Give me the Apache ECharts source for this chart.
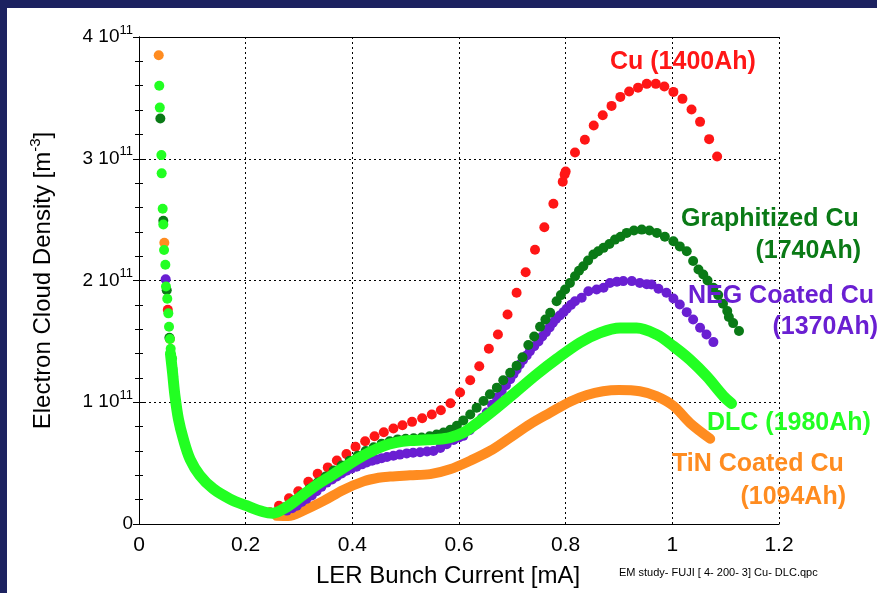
<!DOCTYPE html>
<html><head><meta charset="utf-8">
<script src="https://cdn.jsdelivr.net/npm/echarts@6/dist/echarts.min.js"></script>
<style>html,body{margin:0;padding:0;background:#fff}#c{width:877px;height:593px}</style>
</head><body><div id="c"></div>
<script>
// X: LER bunch current [mA]; Y: electron cloud density in units of 1e11 m^-3
const xTickLabels = ['0','0.2','0.4','0.6','0.8','1','1.2'];
const yTickLabels = ['0','1','2','3','4'];
const yExponent = '11';

const cuPoints = [[0.054,1.76],
 [0.2456,0.096],[0.2625,0.150],[0.2813,0.211],[0.2987,0.268],[0.3175,0.347],[0.335,0.412],[0.354,0.465],[0.371,0.522],[0.389,0.574],[0.406,0.635],[0.424,0.680],[0.4416,0.721],[0.459,0.754],[0.477,0.784],[0.494,0.811],[0.512,0.839],[0.531,0.869],[0.549,0.899],[0.566,0.934],[0.584,0.992],[0.602,1.080],[0.621,1.180],[0.638,1.295],[0.656,1.439],[0.673,1.557],[0.691,1.721],[0.708,1.899],[0.725,2.068],[0.7425,2.252],[0.760,2.437],[0.777,2.631],[0.7945,2.811],[0.798,2.87],[0.800,2.896],[0.8175,3.052],[0.836,3.156],[0.8526,3.273],[0.8695,3.358],[0.886,3.434],[0.9025,3.508],[0.919,3.552],[0.9357,3.584],[0.952,3.615],[0.969,3.615],[0.985,3.593],[1.002,3.549],[1.019,3.492],[1.036,3.404],[1.052,3.303],[1.069,3.161],[1.084,3.019]];

const graphitizedPoints = [[0.040,3.33],[0.0456,2.49],[0.052,1.92],[0.057,1.53],
 [0.26,0.10],[0.275,0.14],[0.29,0.19],[0.305,0.24],[0.32,0.29],[0.335,0.34],[0.35,0.39],[0.365,0.44],[0.38,0.48],[0.395,0.52],[0.41,0.56],[0.425,0.60],[0.44,0.63],[0.455,0.66],[0.47,0.68],[0.485,0.695],[0.50,0.70],[0.515,0.705],[0.53,0.71],[0.545,0.72],[0.558,0.735],[0.571,0.751],[0.584,0.775],[0.596,0.806],[0.608,0.85],[0.621,0.90],[0.633,0.955],[0.646,1.01],[0.658,1.065],[0.671,1.12],[0.683,1.18],[0.696,1.243],[0.708,1.30],[0.719,1.37],[0.730,1.47],[0.741,1.54],[0.752,1.62],[0.762,1.68],[0.771,1.735],[0.783,1.83],[0.791,1.88],[0.799,1.926],[0.808,1.98],[0.8175,2.035],[0.825,2.08],[0.833,2.117],[0.842,2.165],[0.852,2.213],[0.861,2.24],[0.871,2.268],[0.882,2.30],[0.8925,2.336],[0.903,2.36],[0.9145,2.391],[0.928,2.41],[0.9426,2.418],[0.957,2.41],[0.971,2.391],[0.986,2.36],[1.002,2.322],[1.014,2.28],[1.027,2.24],[1.039,2.16],[1.049,2.09],[1.058,2.05],[1.066,2.00],[1.077,1.94],[1.086,1.88],[1.095,1.81],[1.103,1.75],[1.106,1.70],[1.114,1.65],[1.125,1.585]];

const negPoints = [[0.050,2.01],[0.064,1.21],
 [0.277,0.11],[0.287,0.13],[0.296,0.15],[0.305,0.18],[0.314,0.205],[0.324,0.235],[0.333,0.27],[0.342,0.305],[0.352,0.34],[0.362,0.365],[0.371,0.39],[0.38,0.415],[0.389,0.437],[0.398,0.455],[0.408,0.47],[0.418,0.49],[0.427,0.505],[0.437,0.52],[0.446,0.53],[0.455,0.54],[0.465,0.55],[0.477,0.56],[0.489,0.57],[0.502,0.58],[0.514,0.585],[0.527,0.59],[0.540,0.595],[0.552,0.60],[0.565,0.625],[0.577,0.656],[0.590,0.69],[0.600,0.71],[0.608,0.724],[0.620,0.77],[0.633,0.82],[0.643,0.87],[0.652,0.915],[0.662,0.98],[0.671,1.04],[0.680,1.093],[0.688,1.14],[0.696,1.189],[0.702,1.23],[0.708,1.27],[0.714,1.31],[0.720,1.347],[0.727,1.385],[0.733,1.42],[0.741,1.46],[0.749,1.50],[0.756,1.54],[0.763,1.576],[0.770,1.615],[0.776,1.653],[0.782,1.685],[0.789,1.713],[0.796,1.74],[0.802,1.768],[0.810,1.80],[0.8175,1.83],[0.830,1.858],[0.8425,1.912],[0.858,1.926],[0.871,1.94],[0.883,1.98],[0.896,1.99],[0.908,1.995],[0.924,1.995],[0.939,1.98],[0.952,1.97],[0.961,1.967],[0.974,1.932],[0.989,1.90],[1.002,1.852],[1.014,1.803],[1.027,1.74],[1.039,1.68],[1.052,1.612],[1.064,1.557],[1.077,1.494]];

const dlcDots = [[0.038,3.60],[0.039,3.42],[0.042,3.03],[0.0425,2.88],[0.0444,2.59],[0.0456,2.46],[0.047,2.25],[0.0494,2.13],[0.0506,1.95],[0.053,1.85],[0.055,1.73],[0.0563,1.62],[0.058,1.52],[0.0594,1.44],[0.062,1.36],[0.063,1.27]];
const dlcBand = [[0.059,1.40],[0.063,1.24],[0.0675,1.05],[0.074,0.86],[0.083,0.70],[0.096,0.53],[0.114,0.40],[0.139,0.29],[0.171,0.205],[0.202,0.15],[0.233,0.10],[0.250,0.088],[0.277,0.14],[0.308,0.24],[0.333,0.32],[0.358,0.39],[0.383,0.46],[0.408,0.53],[0.433,0.59],[0.458,0.64],[0.483,0.67],[0.508,0.685],[0.533,0.69],[0.558,0.695],[0.583,0.71],[0.608,0.75],[0.639,0.845],[0.671,0.955],[0.708,1.09],[0.746,1.23],[0.783,1.355],[0.827,1.49],[0.864,1.57],[0.902,1.61],[0.933,1.61],[0.971,1.555],[1.002,1.46],[1.033,1.35],[1.064,1.215],[1.096,1.05],[1.111,0.99]];

const tinDots = [[0.037,3.85],[0.0475,2.31],[0.058,1.52]];
const tinBand = [[0.258,0.068],[0.28,0.066],[0.308,0.11],[0.346,0.19],[0.383,0.28],[0.421,0.35],[0.449,0.38],[0.471,0.39],[0.508,0.40],[0.546,0.41],[0.583,0.45],[0.621,0.52],[0.658,0.60],[0.696,0.71],[0.733,0.82],[0.771,0.915],[0.808,1.005],[0.840,1.06],[0.870,1.09],[0.900,1.10],[0.939,1.09],[0.970,1.05],[1.002,0.97],[1.033,0.83],[1.071,0.70]];

const C_RED='#ff1616', C_DG='#0a7a16', C_PUR='#6a1fd2', C_LG='#22ff22', C_OR='#ff8c20';
const labelFont = 'bold 25px "Liberation Sans", Arial, sans-serif';

const chart = echarts.init(document.getElementById('c'), null, {renderer:'canvas'});
function seriesLabel(text, x, y, color, align){
  return {type:'text', x:x, y:y, z:50,
    style:{text:text, fill:color, font:labelFont, align:align, textAlign:align, verticalAlign:'middle', textVerticalAlign:'middle'}};
}
const yAxisBase = {type:'value', min:0, max:4, interval:1,
  axisLine:{show:true, lineStyle:{color:'#000', width:1}},
  axisTick:{show:true, inside:true, length:6, lineStyle:{color:'#000'}},
  minorTick:{show:true, splitNumber:5, length:4, lineStyle:{color:'#000'}},
};
const dotStyle = c => ({color:c, opacity:1});
chart.setOption({
  backgroundColor:'#fff',
  animation:false,
  grid:{left:139, right:98, top:37, bottom:68, show:false},
  xAxis:[{type:'value', min:0, max:1.2, interval:0.2, position:'bottom',
    axisLine:{show:true, onZero:false, lineStyle:{color:'#000', width:1}},
    axisTick:{show:false},
    splitLine:{show:true, lineStyle:{color:'#000', type:[2,3], width:1}},
    axisLabel:{color:'#000', fontSize:21, margin:11, fontFamily:'Liberation Sans',
      formatter:v=>xTickLabels[Math.round(v/0.2)]},
    name:'LER Bunch Current [mA]', nameLocation:'middle', nameGap:40,
    nameTextStyle:{color:'#000', fontSize:24, fontFamily:'Liberation Sans', padding:[0,22,0,0]}
  },{type:'value', min:0, max:1.2, interval:0.2, position:'top',
    axisLine:{show:true, onZero:false, lineStyle:{color:'#000', width:1}},
    axisTick:{show:false}, axisLabel:{show:false}, splitLine:{show:false}}],
  yAxis:[Object.assign({}, yAxisBase, {position:'left',
    splitLine:{show:true, lineStyle:{color:'#000', type:[2,3], width:1}},
    axisLabel:{margin:6, color:'#000', fontFamily:'Liberation Sans',
      formatter:v=>{const i=Math.round(v); return i===0?'{a|0}':'{a|'+yTickLabels[i]+' 10}{b|'+yExponent+'}';},
      rich:{a:{fontSize:19, color:'#000', fontFamily:'Liberation Sans'}, b:{fontSize:13, color:'#000', fontFamily:'Liberation Sans', padding:[0,0,14,0]}}},
    name:'{t|Electron Cloud Density [m}{s|-3}{t|]}', nameLocation:'middle', nameRotate:90, nameGap:80,
    nameTextStyle:{rich:{t:{fontSize:24, color:'#000', fontFamily:'Liberation Sans'}, s:{fontSize:15, color:'#000', fontFamily:'Liberation Sans', padding:[0,0,16,0]}}}
  }), Object.assign({}, yAxisBase, {position:'right', axisLabel:{show:false}, splitLine:{show:false}})],
  series:[
    {type:'line', data:tinBand, symbol:'none', smooth:0.35, lineStyle:{color:C_OR, width:10, cap:'round', join:'round', opacity:1}, z:2},
    {type:'scatter', data:tinDots, symbolSize:10, itemStyle:dotStyle(C_OR), z:2},
    {type:'scatter', data:cuPoints, symbolSize:10, itemStyle:dotStyle(C_RED), z:3},
    {type:'scatter', data:negPoints, symbolSize:10, itemStyle:dotStyle(C_PUR), z:4},
    {type:'scatter', data:graphitizedPoints, symbolSize:10, itemStyle:dotStyle(C_DG), z:5},
    {type:'line', data:dlcBand, symbol:'none', smooth:0.35, lineStyle:{color:C_LG, width:11, cap:'round', join:'round', opacity:1}, z:6},
    {type:'scatter', data:dlcDots, symbolSize:10, itemStyle:dotStyle(C_LG), z:7}
  ],
  graphic:[
    {type:'rect', left:0, top:0, shape:{width:7, height:593}, style:{fill:'#1c2260'}, z:100},
    {type:'rect', left:0, top:0, shape:{width:877, height:8}, style:{fill:'#1c2260'}, z:100},
    seriesLabel('Cu (1400Ah)', 610, 62, C_RED, 'left'),
    seriesLabel('Graphitized Cu', 681, 219, C_DG, 'left'),
    seriesLabel('(1740Ah)', 861, 251, C_DG, 'right'),
    seriesLabel('NEG Coated Cu', 688, 296, C_PUR, 'left'),
    seriesLabel('(1370Ah)', 878, 327, C_PUR, 'right'),
    seriesLabel('DLC (1980Ah)', 707, 423, C_LG, 'left'),
    seriesLabel('TiN Coated Cu', 672, 464, C_OR, 'left'),
    seriesLabel('(1094Ah)', 846, 497, C_OR, 'right'),
    {type:'text', x:619, y:573, z:50, style:{text:'EM study- FUJI [ 4- 200- 3] Cu- DLC.qpc', fill:'#000', font:'11px "Liberation Sans Narrow", "Liberation Sans", sans-serif', align:'left', textAlign:'left', verticalAlign:'middle', textVerticalAlign:'middle'}}
  ]
});
</script></body></html>
